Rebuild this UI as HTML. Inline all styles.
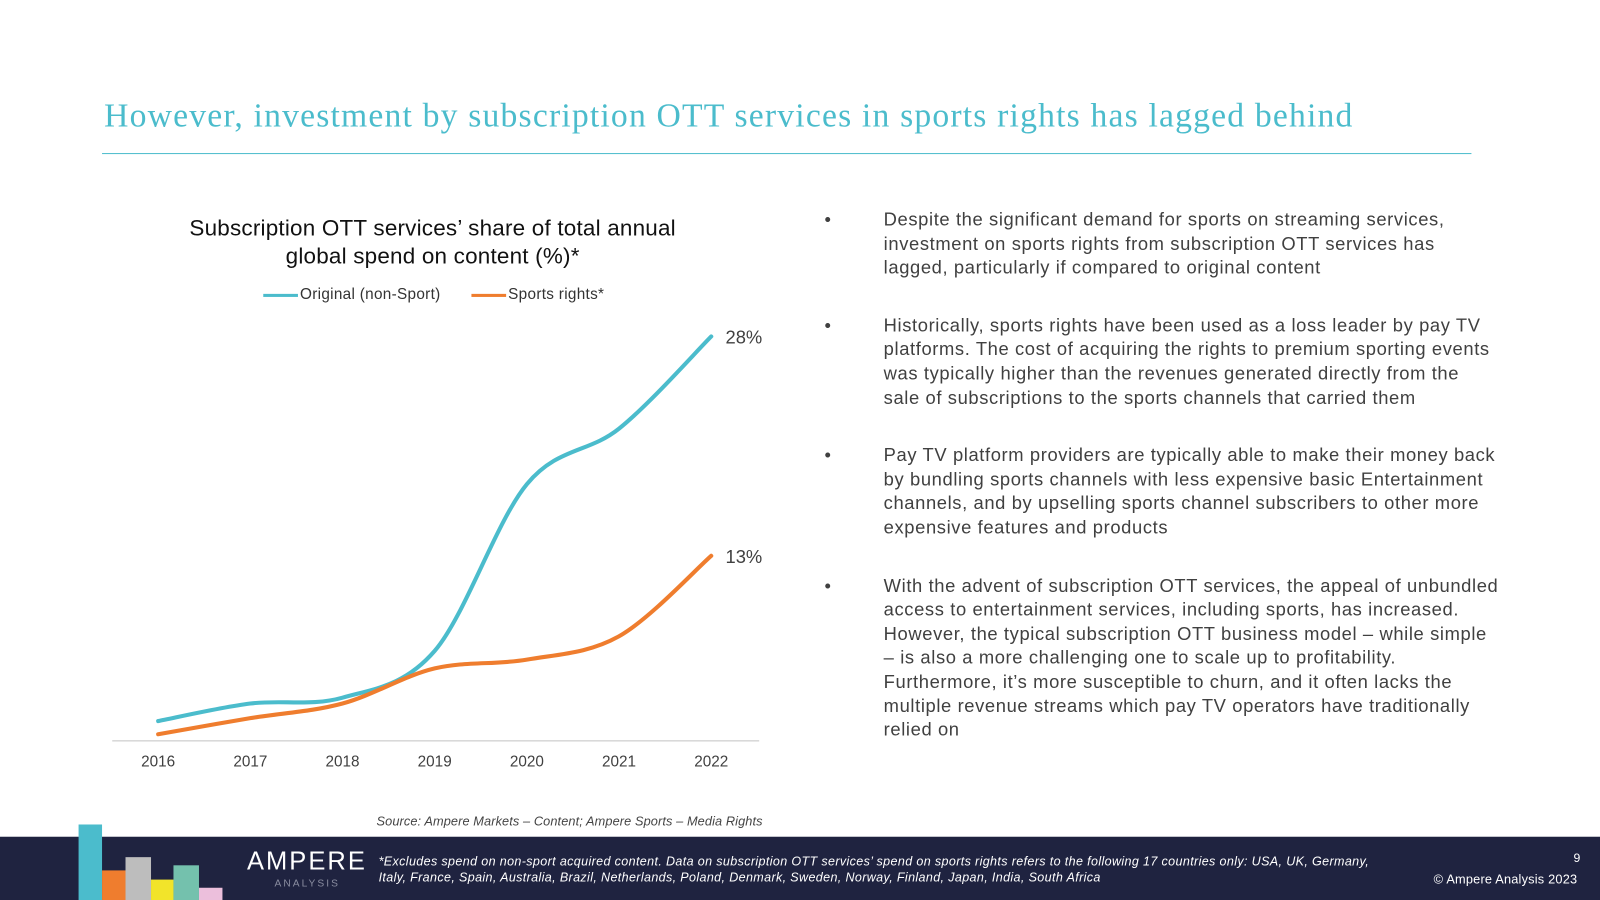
<!DOCTYPE html>
<html><head><meta charset="utf-8"><style>
html,body{margin:0;padding:0;background:#fff;overflow:hidden}
#page{position:absolute;left:0;top:0;width:1568px;height:882px;transform:scale(1.020408);transform-origin:0 0;font-family:"Liberation Sans",sans-serif;color:#404040}
.abs{position:absolute}
#bullets li{margin-bottom:33px;white-space:nowrap}
</style></head><body>
<div id="page">
<div class="abs" style="left:102px;top:96px;font-family:'Liberation Serif',serif;font-size:33px;letter-spacing:1.15px;color:#4bbccc;white-space:nowrap">However, investment by subscription OTT services in sports rights has lagged behind</div>
<div class="abs" style="left:100px;top:150px;width:1342px;height:1px;background:#4bbccc"></div>

<div class="abs" style="left:124px;top:210px;width:600px;text-align:center;font-size:22px;letter-spacing:0.2px;line-height:27px;color:#111">Subscription OTT services’ share of total annual<br>global spend on content (%)*</div>
<div class="abs" style="left:258px;top:280px;font-size:15px;letter-spacing:0.3px;color:#333;white-space:nowrap"><span style="display:inline-block;width:34px;height:3px;background:#4bbccc;vertical-align:middle;margin-right:2px"></span>Original (non-Sport)</div>
<div class="abs" style="left:462px;top:280px;font-size:15px;letter-spacing:0.3px;color:#333;white-space:nowrap"><span style="display:inline-block;width:34px;height:3px;background:#ef7d2e;vertical-align:middle;margin-right:2px"></span>Sports rights*</div>

<svg class="abs" id="chart" style="left:0;top:0" width="1568" height="800"></svg>

<div class="abs" style="left:369px;top:798px;font-size:12.5px;letter-spacing:0.1px;font-style:italic;color:#444;white-space:nowrap">Source: Ampere Markets – Content; Ampere Sports – Media Rights</div>

<ul id="bullets" class="abs" style="left:808px;top:204px;width:700px;margin:0;padding:0 0 0 58px;font-size:18px;letter-spacing:0.6px;line-height:23.6px;color:#404040;list-style:none">
<li style="position:relative"><span style="position:absolute;left:-58px">•</span>Despite the significant demand for sports on streaming services,<br>investment on sports rights from subscription OTT services has<br>lagged, particularly if compared to original content</li>
<li style="position:relative"><span style="position:absolute;left:-58px">•</span>Historically, sports rights have been used as a loss leader by pay TV<br>platforms. The cost of acquiring the rights to premium sporting events<br>was typically higher than the revenues generated directly from the<br>sale of subscriptions to the sports channels that carried them</li>
<li style="position:relative"><span style="position:absolute;left:-58px">•</span>Pay TV platform providers are typically able to make their money back<br>by bundling sports channels with less expensive basic Entertainment<br>channels, and by upselling sports channel subscribers to other more<br>expensive features and products</li>
<li style="position:relative"><span style="position:absolute;left:-58px">•</span>With the advent of subscription OTT services, the appeal of unbundled<br>access to entertainment services, including sports, has increased.<br>However, the typical subscription OTT business model – while simple<br>– is also a more challenging one to scale up to profitability.<br>Furthermore, it’s more susceptible to churn, and it often lacks the<br>multiple revenue streams which pay TV operators have traditionally<br>relied on</li>
</ul>

<div class="abs" style="left:0;top:820px;width:1568px;height:62px;background:#1f2340"></div>
<div class="abs" style="left:77px;top:808px;width:23px;height:74px;background:#4bbccc"></div>
<div class="abs" style="left:100px;top:853px;width:23px;height:29px;background:#ef7d2e"></div>
<div class="abs" style="left:123px;top:840px;width:25px;height:42px;background:#bdbdbd"></div>
<div class="abs" style="left:148px;top:862px;width:22px;height:20px;background:#f2e42a"></div>
<div class="abs" style="left:170px;top:848px;width:25px;height:34px;background:#74c1ad"></div>
<div class="abs" style="left:195px;top:870px;width:23px;height:12px;background:#ecbfdc"></div>
<div class="abs" style="left:242px;top:830px;font-size:25px;letter-spacing:2px;color:#fff">AMPERE</div>
<div class="abs" style="left:269px;top:861px;font-size:10px;letter-spacing:2px;color:#8a8da0">ANALYSIS</div>
<div class="abs" style="left:371px;top:836px;width:990px;font-size:12.3px;letter-spacing:0.35px;line-height:16px;font-style:italic;color:#fff;white-space:nowrap">*Excludes spend on non-sport acquired content. Data on subscription OTT services’ spend on sports rights refers to the following 17 countries only: USA, UK, Germany,<br>Italy, France, Spain, Australia, Brazil, Netherlands, Poland, Denmark, Sweden, Norway, Finland, Japan, India, South Africa</div>
<div class="abs" style="left:1542px;top:834px;font-size:12px;color:#fff">9</div>
<div class="abs" style="left:1405px;top:855px;font-size:12.5px;letter-spacing:0.2px;color:#fff;white-space:nowrap">© Ampere Analysis 2023</div>
</div>
<script>
const years = ["2016","2017","2018","2019","2020","2021","2022"];
const originalValues = [1.7, 2.9, 3.3, 6.5, 17.9, 21.7, 28];
const sportsValues = [0.8, 1.9, 2.9, 5.3, 5.9, 7.5, 13];
const endLabels = ["28%","13%"];

const svg = document.getElementById('chart');
const NS = 'http://www.w3.org/2000/svg';
const x0 = 155, x1 = 697, yZero = 731, pxPerUnit = 14.33;
function xs(i){ return x0 + (x1 - x0) * i / (years.length - 1); }
function ys(v){ return yZero - v * pxPerUnit; }

const axis = document.createElementNS(NS,'line');
axis.setAttribute('x1',110);axis.setAttribute('x2',744);axis.setAttribute('y1',726);axis.setAttribute('y2',726);
axis.setAttribute('stroke','#d9d9d9');axis.setAttribute('stroke-width','1.5');


svg.appendChild(axis);

years.forEach((y,i)=>{
  const t = document.createElementNS(NS,'text');
  t.setAttribute('x',xs(i));t.setAttribute('y',751);t.setAttribute('text-anchor','middle');
  t.setAttribute('font-size','15');t.setAttribute('fill','#404040');t.setAttribute('font-family','Liberation Sans, sans-serif');
  t.textContent = y;
  
  
  svg.appendChild(t);
});

function smoothPath(vals){
  const p = vals.map((v,i)=>[xs(i),ys(v)]);
  let d = 'M'+p[0][0]+','+p[0][1];
  for(let i=0;i<p.length-1;i++){
    const a=p[Math.max(0,i-1)], b=p[i], c=p[i+1], e=p[Math.min(p.length-1,i+2)];
    const c1=[b[0]+(c[0]-a[0])/6, b[1]+(c[1]-a[1])/6];
    const c2=[c[0]-(e[0]-b[0])/6, c[1]-(e[1]-b[1])/6];
    d+=' C'+c1.join(',')+' '+c2.join(',')+' '+c.join(',');
  }
  return d;
}
[[originalValues,'#4bbccc','line-original'],[sportsValues,'#ef7d2e','line-sports']].forEach((s,k)=>{
  const path = document.createElementNS(NS,'path');
  path.setAttribute('d',smoothPath(s[0]));path.setAttribute('fill','none');
  path.setAttribute('stroke',s[1]);path.setAttribute('stroke-width','4');path.setAttribute('stroke-linecap','round');
  
  
  svg.appendChild(path);
  const last = s[0].length-1;
  const t = document.createElementNS(NS,'text');
  t.setAttribute('x',xs(last)+14);t.setAttribute('y',ys(s[0][last])+7);
  t.setAttribute('font-size','18');t.setAttribute('fill','#404040');t.setAttribute('font-family','Liberation Sans, sans-serif');
  t.textContent = endLabels[k];
  
  
  svg.appendChild(t);
});
</script>
</body></html>
